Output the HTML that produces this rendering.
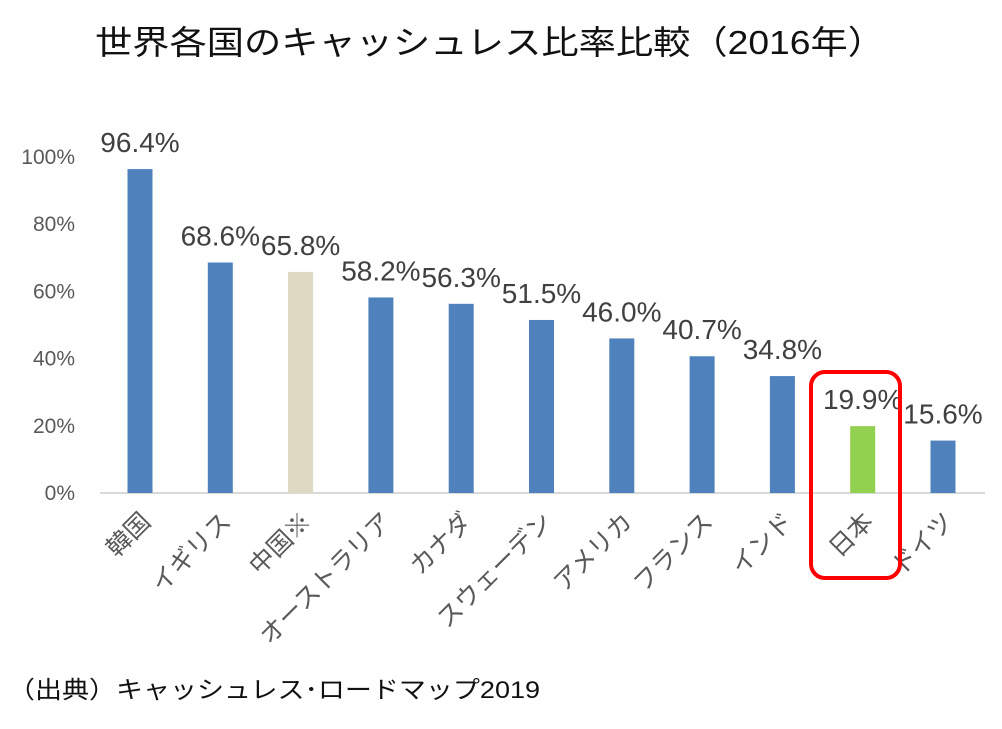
<!DOCTYPE html>
<html><head><meta charset="utf-8"><style>
body{margin:0;background:#fff;}
svg text{font-family:"Liberation Sans","Noto Sans CJK JP",sans-serif;}
</style></head><body>
<svg id="chart" width="1002" height="724" viewBox="0 0 1002 724" xmlns="http://www.w3.org/2000/svg">
<text x="95" y="54" font-size="33" textLength="790" lengthAdjust="spacingAndGlyphs" fill="#111">世界各国のキャッシュレス比率比較（2016年）</text>
<g id="grid"></g><g id="bars"></g><g id="xlabels"></g>
<rect x="811" y="372" width="89" height="206" rx="14" fill="none" stroke="#f00" stroke-width="4"/>
<text x="8" y="698" font-size="24" textLength="532" lengthAdjust="spacingAndGlyphs" fill="#111">（出典）キャッシュレス･ロードマップ2019</text>
</svg>
<script>
const categories=["韓国","イギリス","中国※","オーストラリア","カナダ","スウェーデン","アメリカ","フランス","インド","日本","ドイツ"];
const values=[96.4,68.6,65.8,58.2,56.3,51.5,46.0,40.7,34.8,19.9,15.6];
const colors=["#4f81bd","#4f81bd","#ddd9c3","#4f81bd","#4f81bd","#4f81bd","#4f81bd","#4f81bd","#4f81bd","#92d050","#4f81bd"];
const yTicks=[0,20,40,60,80,100];
const NS="http://www.w3.org/2000/svg";
const y0=493,yTop=157,x0=100,step=80.3,bw=25;
const yScale=v=>y0-(y0-yTop)*v/100;
const xScale=i=>x0+40+i*step;
function mk(t,a,p){const e=document.createElementNS(NS,t);for(const k in a)e.setAttribute(k,a[k]);p.appendChild(e);return e;}
const grid=document.getElementById('grid'),bars=document.getElementById('bars'),xl=document.getElementById('xlabels');
yTicks.forEach(v=>{
 const t=mk('text',{x:75,y:yScale(v)+7,'font-size':21,'text-anchor':'end',fill:'#595959'},grid);
 
 
 t.textContent=v+'%';
});
const ax=mk('line',{x1:x0,x2:985,y1:y0,y2:y0,stroke:'#d9d9d9','stroke-width':2},grid);


values.forEach((v,i)=>{
 const cx=xScale(i);
 const r=mk('rect',{x:cx-bw/2,y:yScale(v),width:bw,height:y0-yScale(v),fill:colors[i]},bars);
 
 
 const l=mk('text',{x:cx,y:yScale(v)-17,'font-size':28,'text-anchor':'middle',fill:'#404040'},bars);
 
 
 l.textContent=v.toFixed(1)+'%';
 const c=mk('text',{x:0,y:0,'font-size':25,'text-anchor':'end',fill:'#595959',transform:`translate(${cx+12},${y0+30}) rotate(-45)`},xl);
 
 
 c.textContent=categories[i];
});
</script>
</body></html>
